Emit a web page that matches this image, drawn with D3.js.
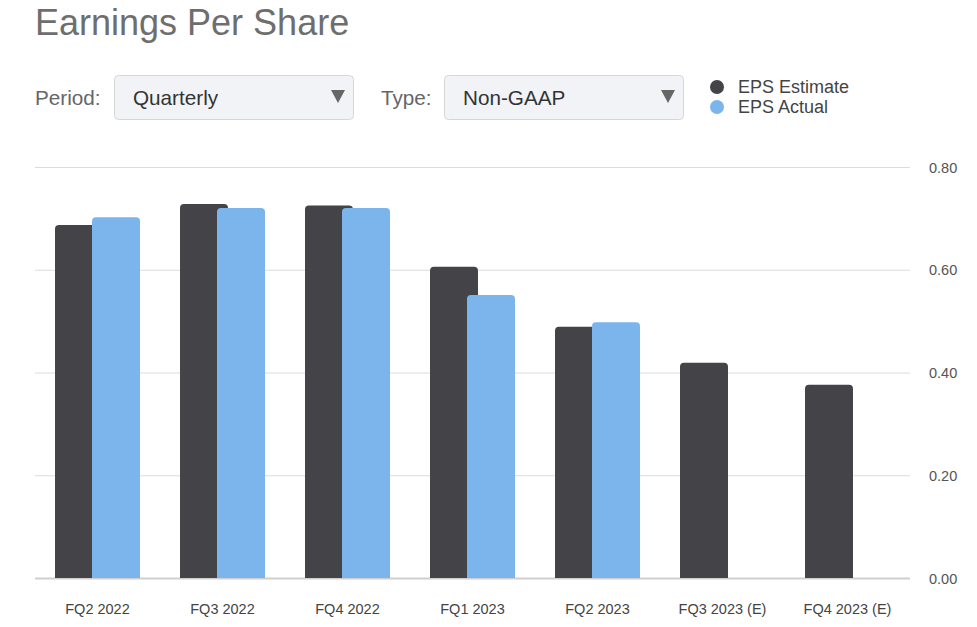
<!DOCTYPE html>
<html>
<head>
<meta charset="utf-8">
<script src="https://cdn.jsdelivr.net/npm/d3@7"></script>
<style>
  body { margin: 0; background: #fff; font-family: "Liberation Sans", Arial, sans-serif; }
</style>
</head>
<body>
<div id="wrapper"></div>
<script>
// data
const quarters = ["FQ2 2022", "FQ3 2022", "FQ4 2022", "FQ1 2023", "FQ2 2023", "FQ3 2023 (E)", "FQ4 2023 (E)"]
const epsEstimate = [0.687, 0.728, 0.725, 0.606, 0.489, 0.419, 0.376]
const epsActual = [0.702, 0.72, 0.72, 0.551, 0.498, null, null]
const yTicks = [0, 0.2, 0.4, 0.6, 0.8]
const seriesNames = ["EPS Estimate", "EPS Actual"]
const seriesColors = ["#434348", "#7cb5ec"]

const dims = {
  width: 977,
  height: 627,
  plotLeft: 35,
  plotRight: 910,
  plotTop: 167,
  plotBottom: 578,
}

const svg = d3.select("#wrapper")
  .append("svg")
  .attr("width", dims.width)
  .attr("height", dims.height)

// title
svg.append("text")
  .attr("x", 35)
  .attr("y", 35)
  .attr("fill", "#6e6e6e")
  .style("font-size", "36px")
  .text("Earnings Per Share")

// dropdowns
const drawSelect = (label, value, labelX, boxX) => {
  svg.append("text")
    .attr("x", labelX)
    .attr("y", 105)
    .attr("fill", "#666")
    .style("font-size", "20.7px")
    .text(label)
  svg.append("rect")
    .attr("x", boxX + 0.5)
    .attr("y", 75.5)
    .attr("width", 239)
    .attr("height", 44)
    .attr("rx", 4)
    .attr("fill", "#f2f3f6")
    .attr("stroke", "#d6d6d6")
  svg.append("text")
    .attr("x", boxX + 19)
    .attr("y", 105)
    .attr("fill", "#333")
    .style("font-size", "20.7px")
    .text(value)
  const ax = boxX + 224
  svg.append("path")
    .attr("d", `M${ax - 7},90 L${ax + 7},90 L${ax},103 Z`)
    .attr("fill", "#666")
}
drawSelect("Period:", "Quarterly", 35, 114)
drawSelect("Type:", "Non-GAAP", 381, 444)

// legend
const legend = svg.append("g")
seriesNames.forEach((name, i) => {
  legend.append("circle")
    .attr("cx", 717)
    .attr("cy", 87 + i * 20)
    .attr("r", 7)
    .attr("fill", seriesColors[i])
  legend.append("text")
    .attr("x", 738)
    .attr("y", 93 + i * 20)
    .attr("fill", "#444")
    .style("font-size", "18px")
    .text(name)
})

// scales
const xScale = d3.scaleBand()
  .domain(quarters)
  .range([dims.plotLeft, dims.plotRight])

const yScale = d3.scaleLinear()
  .domain([0, 0.8])
  .range([dims.plotBottom, dims.plotTop])

// grid
const yGridGenerator = d3.axisRight(yScale)
  .tickValues(yTicks)
  .tickSize(dims.plotRight - dims.plotLeft)
  .tickFormat(d3.format(".2f"))

const yGrid = svg.append("g")
  .attr("transform", `translate(${dims.plotLeft},0)`)
  .call(yGridGenerator)
yGrid.select(".domain").remove()
yGrid.selectAll(".tick line")
  .attr("stroke", d => d === 0 ? "#cfcfcf" : "#dcdcdc")
  .attr("stroke-width", d => d === 0 ? 2 : 1)
yGrid.selectAll(".tick text")
  .attr("x", dims.plotRight - dims.plotLeft + 19)
  .attr("dy", "0.35em")
  .attr("fill", "#555")
  .style("font-size", "14.5px")
  .style("font-family", "'Liberation Sans', Arial, sans-serif")

// bars with rounded tops
const barWidth = 48
const roundedTop = (x, y, w, h, r) => {
  r = Math.min(r, h)
  return `M${x},${y + h} L${x},${y + r} Q${x},${y} ${x + r},${y} L${x + w - r},${y} Q${x + w},${y} ${x + w},${y + r} L${x + w},${y + h} Z`
}

const bars = svg.append("g")
quarters.forEach((q, i) => {
  const center = xScale(q) + xScale.bandwidth() / 2
  const est = epsEstimate[i]
  bars.append("path")
    .attr("d", roundedTop(center - 42.5, yScale(est), barWidth, yScale(0) - yScale(est), 4))
    .attr("fill", seriesColors[0])
  const act = epsActual[i]
  if (act != null) {
    bars.append("path")
      .attr("d", roundedTop(center - 5.5, yScale(act), barWidth, yScale(0) - yScale(act), 4))
      .attr("fill", seriesColors[1])
  }
})

// x labels
const xAxis = svg.append("g")
  .attr("transform", `translate(0,${dims.plotBottom})`)
  .call(d3.axisBottom(xScale).tickSize(0).tickPadding(26))
xAxis.select(".domain").remove()
xAxis.selectAll("text")
  .attr("fill", "#444")
  .style("font-size", "14.5px")
  .style("font-family", "'Liberation Sans', Arial, sans-serif")
</script>
</body>
</html>
